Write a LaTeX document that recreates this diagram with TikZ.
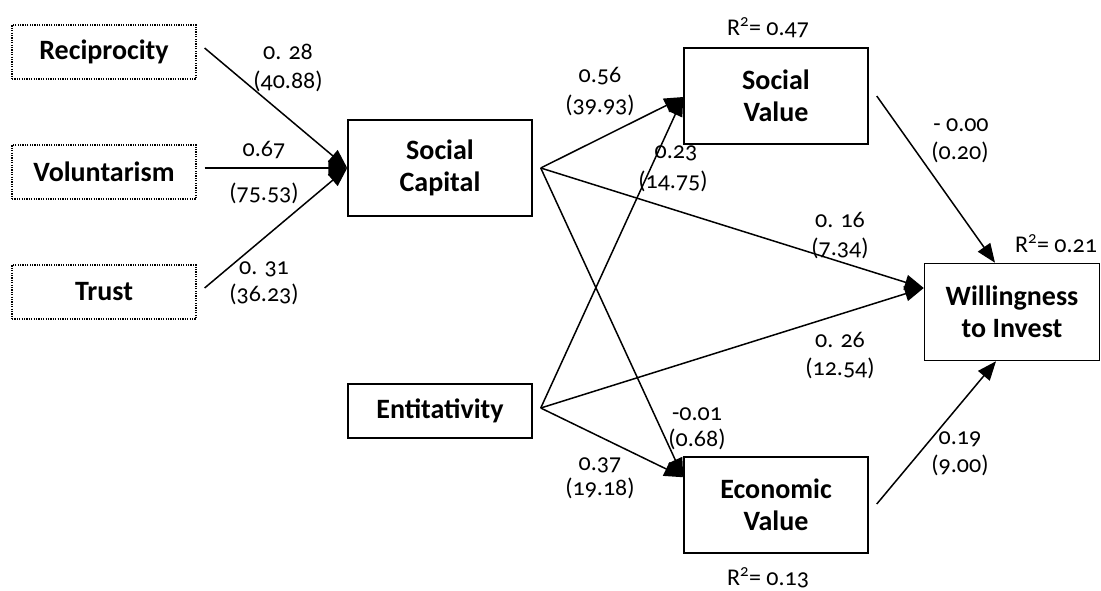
\documentclass[tikz,border=0pt]{standalone}
\usepackage{fontspec}
\setmainfont{Carlito}[Numbers=OldStyle]
\usetikzlibrary{arrows.meta}
\begin{document}
\begin{tikzpicture}[x=1pt,y=-1pt,
  box/.style={draw, line width=1.5pt, minimum width=184pt, minimum height=96pt, inner sep=0pt, align=center,
    font=\fontsize{28}{32}\selectfont\bfseries},
  sbox/.style={box, minimum height=54pt},
  dbox/.style={sbox, line width=1.2pt, dash pattern=on 1.2pt off 1.2pt},
  lab/.style={font=\fontsize{24}{26}\selectfont, inner sep=0pt},
  arr/.style={line width=1.5pt, -{Triangle[length=19pt,width=15pt]}},
]
\useasboundingbox (0,0) rectangle (1101,590);
% boxes
\node[dbox] (rec) at (104,52) {Reciprocity};
\node[dbox] (vol) at (104,172) {Voluntarism};
\node[dbox] (tru) at (104,292) {Trust};
\node[box] (sc) at (440,168) {Social\\Capital};
\node[sbox] (ent) at (440,411) {Entitativity};
\node[box] (sv) at (776,96) {Social\\Value};
\node[box] (ev) at (776,505) {Economic\\Value};
\node[box, minimum width=175pt, minimum height=97pt] (wi) at (1012,312) {Willingness\\to Invest};
% connector ends
\coordinate (recO) at ([xshift=8pt,yshift=4pt]rec.east);
\coordinate (volO) at ([xshift=8pt,yshift=4pt]vol.east);
\coordinate (truO) at ([xshift=8pt,yshift=4pt]tru.east);
\coordinate (scO) at ([xshift=8pt]sc.east);
\coordinate (entO) at ([xshift=8pt,yshift=3pt]ent.east);
\coordinate (svO) at ([xshift=8pt]sv.east);
\coordinate (evO) at ([xshift=8pt,yshift=1pt]ev.east);
\coordinate (svIn) at ([yshift=-1pt]sv.west);
\coordinate (evIn) at ([yshift=-21pt]ev.north west);
\coordinate (wiIn) at ([yshift=24pt]wi.west);
\coordinate (wiTop) at ([xshift=-17pt]wi.north);
\coordinate (wiBot) at ([xshift=-16pt]wi.south);
% connectors
\draw[arr] (recO) -- (sc.west);
\draw[arr] (volO) -- (sc.west);
\draw[arr] (truO) -- (sc.west);
\draw[arr] (scO) -- (svIn);
\draw[arr] (scO) -- (evIn);
\draw[arr] (scO) -- (wiIn);
\draw[arr] (entO) -- (svIn);
\draw[arr] (entO) -- (evIn);
\draw[arr] (entO) -- (wiIn);
\draw[arr] (svO) -- (wiTop);
\draw[arr] (evO) -- (wiBot);
% labels
\node[lab] (a1) at (288,52) {0. 28};
\node[lab] (a2) at (288,81) {(40.88)};
\node[lab] (b1) at (264,150) {0.67};
\node[lab] (b2) at (264,193) {(75.53)};
\node[lab] (c1) at (264,269) {0. 31};
\node[lab] (c2) at (264,294) {(36.23)};
\node[lab] (d1) at (600,76) {0.56};
\node[lab] (d2) at (600,105) {(39.93)};
\node[lab] (e1) at (676,153) {0.23};
\node[lab] (e2) at (673,181) {(14.75)};
\node[lab] (f1) at (961,125) {- 0.00};
\node[lab] (f2) at (960,152) {(0.20)};
\node[lab] (g1) at (840,220) {0. 16};
\node[lab] (g2) at (840,248) {(7.34)};
\node[lab] (h1) at (840,340) {0. 26};
\node[lab] (h2) at (840,368) {(12.54)};
\node[lab] (i1) at (697,414) {-0.01};
\node[lab] (i2) at (697,439) {(0.68)};
\node[lab] (j1) at (600,465) {0.37};
\node[lab] (j2) at (600,488) {(19.18)};
\node[lab] (k1) at (960,439) {0.19};
\node[lab] (k2) at (960,465) {(9.00)};
\node[lab] (r1) at (768,28) {R\textsuperscript{2}= 0.47};
\node[lab] (r2) at (1056,244) {R\textsuperscript{2}= 0.21};
\node[lab] (r3) at (768,578) {R\textsuperscript{2}= 0.13};
\end{tikzpicture}
\end{document}
